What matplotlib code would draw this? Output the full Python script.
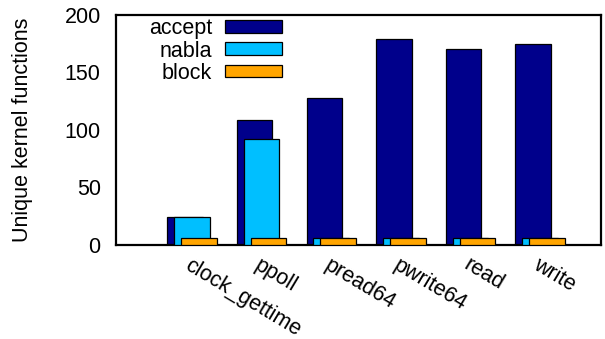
import matplotlib
matplotlib.use("Agg")
import matplotlib.pyplot as plt
import numpy as np

plt.rcParams['font.family'] = ['Liberation Sans', 'DejaVu Sans']

categories = ["clock_gettime", "ppoll", "pread64", "pwrite64", "read", "write"]
accept = [24, 109, 128, 179, 170, 175]
nabla = [24, 92, 6, 6, 6, 6]
block = [6, 6, 6, 6, 6, 6]

series = [("accept", accept, "#00008B"),
          ("nabla", nabla, "#00BFFF"),
          ("block", block, "#FFA500")]

FS = 15.5

fig = plt.figure(figsize=(6.05, 3.39), dpi=100)
ax = fig.add_axes([116 / 605, 1 - 245 / 339, 485 / 605, 230 / 339])

x = np.arange(len(categories))
width = 0.51
offsets = [-0.1, 0.0, 0.1]
for (name, vals, color), off, z in zip(series, offsets, [2, 3, 4]):
    ax.bar(x + off, vals, width=width, color=color, edgecolor="black",
           linewidth=0.9, label=name, zorder=z)

ax.set_xlim(-1.092, 5.876)
ax.set_ylim(0, 200)
ax.set_yticks([0, 50, 100, 150, 200])
ax.tick_params(axis="y", length=0, labelsize=FS, pad=11)
ax.set_xticks(x)
ax.set_xticklabels(categories, rotation=-31, ha="left", va="top",
                   rotation_mode="anchor", fontsize=FS)
ax.tick_params(axis="x", length=0, pad=7)
for s in ax.spines.values():
    s.set_linewidth(1.6)

ax.set_ylabel("Unique kernel functions", fontsize=FS)
ax.yaxis.set_label_coords(-0.171, 0.5)

leg = ax.legend(loc="upper right", bbox_to_anchor=(0.342, 0.985),
                frameon=False, markerfirst=False, fontsize=FS,
                handlelength=2.65, handleheight=0.54, handletextpad=0.6,
                labelspacing=0.05, borderpad=0, borderaxespad=0)

fig.savefig("out.png", dpi=100)
